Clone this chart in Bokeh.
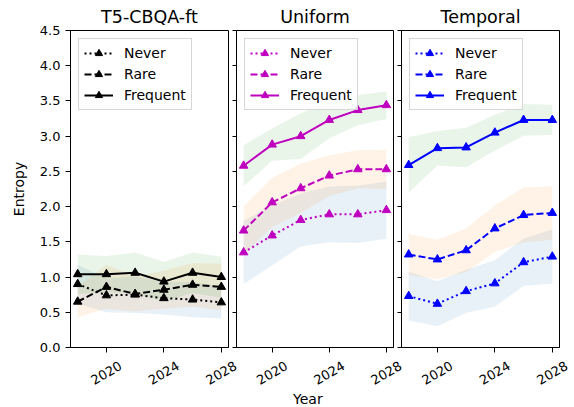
import math
from bokeh.plotting import figure
from bokeh.layouts import row, column
from bokeh.models import Range1d, FixedTicker, Legend, LegendItem, NumeralTickFormatter
from bokeh.core.properties import value
from bokeh.embed import file_html
from bokeh.resources import INLINE

years = [2018, 2020, 2022, 2024, 2026, 2028]
panel_titles = ["T5-CBQA-ft", "Uniform", "Temporal"]
series_names = ["Never", "Rare", "Frequent"]
line_colors = ["black", "#bf00bf", "#0000ff"]

# T5-CBQA-ft
t5_never = [0.90, 0.74, 0.75, 0.70, 0.68, 0.64]
t5_never_std = [0.28, 0.24, 0.26, 0.23, 0.25, 0.23]
t5_rare = [0.65, 0.86, 0.76, 0.82, 0.89, 0.86]
t5_rare_std = [0.22, 0.31, 0.25, 0.27, 0.31, 0.33]
t5_freq = [1.04, 1.04, 1.06, 0.935, 1.06, 1.00]
t5_freq_std = [0.28, 0.26, 0.29, 0.28, 0.29, 0.29]

# Uniform
uni_never = [1.35, 1.59, 1.81, 1.89, 1.89, 1.95]
uni_never_std = [0.45, 0.425, 0.375, 0.395, 0.405, 0.405]
uni_rare = [1.66, 2.06, 2.26, 2.44, 2.53, 2.53]
uni_rare_std = [0.34, 0.35, 0.35, 0.29, 0.27, 0.28]
uni_freq = [2.58, 2.88, 3.00, 3.23, 3.37, 3.44]
uni_freq_std = [0.29, 0.23, 0.325, 0.26, 0.215, 0.195]

# Temporal
tem_never = [0.73, 0.62, 0.80, 0.91, 1.21, 1.29]
tem_never_std = [0.345, 0.32, 0.305, 0.33, 0.335, 0.385]
tem_rare = [1.32, 1.25, 1.38, 1.69, 1.88, 1.91]
tem_rare_std = [0.29, 0.28, 0.31, 0.33, 0.39, 0.38]
tem_freq = [2.59, 2.83, 2.84, 3.05, 3.23, 3.23]
tem_freq_std = [0.395, 0.245, 0.28, 0.255, 0.225, 0.215]

panel_data = [
    [(t5_never, t5_never_std), (t5_rare, t5_rare_std), (t5_freq, t5_freq_std)],
    [(uni_never, uni_never_std), (uni_rare, uni_rare_std), (uni_freq, uni_freq_std)],
    [(tem_never, tem_never_std), (tem_rare, tem_rare_std), (tem_freq, tem_freq_std)],
]

band_colors = ["#1f77b4", "#ff7f0e", "#2ca02c"]
dashes = ["2 3", "7 3", "solid"]
y_ticks = [0.0, 0.5, 1.0, 1.5, 2.0, 2.5, 3.0, 3.5, 4.0, 4.5]
x_ticks = [2020, 2024, 2028]
x_tick_labels = [str(t) for t in x_ticks]
x_label = "Year"
y_label = "Entropy"

FONT = "DejaVu Sans"
X_START, X_END = 2017.5, 2028.5
FRAME_H = 317
FRAME_W = [158, 157, 158]
BORDER_L = [70, 4, 4]
BORDER_R = 4
TOP = 30
MAIN_BOTTOM = 8
STRIP_H = 52
STRIP_SPANS = [(0, 240), (240, 405), (405, 574)]

figs = []
frame_lefts = []
xpos = 0
for i, title in enumerate(panel_titles):
    first = i == 0
    frame_lefts.append(xpos + BORDER_L[i])
    xpos += BORDER_L[i] + FRAME_W[i] + BORDER_R
    p = figure(
        frame_width=FRAME_W[i],
        frame_height=FRAME_H,
        min_border_left=BORDER_L[i],
        min_border_right=BORDER_R,
        min_border_top=TOP,
        min_border_bottom=MAIN_BOTTOM,
        x_range=Range1d(X_START, X_END),
        y_range=Range1d(0, 4.5),
        output_backend="svg",
        toolbar_location=None,
        title=title,
    )
    p.title.align = "center"
    p.title.text_font = FONT
    p.title.text_font_size = "17.5px"
    p.title.text_font_style = "normal"
    p.title.text_color = "black"
    p.title.text_line_height = 1.0
    p.title.standoff = 8
    p.grid.visible = False
    p.outline_line_color = "black"
    p.outline_line_width = 1
    p.outline_line_alpha = 1

    for ax in (p.xaxis[0], p.yaxis[0]):
        ax.axis_line_color = "black"
        ax.major_tick_line_color = "black"
        ax.minor_tick_line_color = None
        ax.major_tick_in = 0
        ax.major_tick_out = 5
        ax.major_label_text_font = FONT
        ax.major_label_text_font_size = "13px"
        ax.major_label_text_color = "black"
        ax.axis_label_text_font = FONT
        ax.axis_label_text_font_size = "14px"
        ax.axis_label_text_font_style = "normal"
        ax.axis_label_text_color = "black"

    # x tick labels drawn in the strip below (centred, rotated)
    p.xaxis.ticker = FixedTicker(ticks=x_ticks)
    p.xaxis.major_label_text_font_size = "0px"
    p.xaxis.major_label_text_color = None
    p.xaxis.major_label_standoff = 0

    p.yaxis.ticker = FixedTicker(ticks=y_ticks)
    p.yaxis.formatter = NumeralTickFormatter(format="0.0")
    if first:
        p.yaxis.axis_label = y_label
        p.yaxis.major_label_standoff = 5
        p.yaxis.axis_label_standoff = 10
    else:
        p.yaxis.major_label_text_font_size = "0px"
        p.yaxis.major_label_text_color = None
        p.yaxis.major_label_standoff = 0
        p.yaxis.major_tick_out = 4

    # bands
    for k, (mean, std) in enumerate(panel_data[i]):
        lo = [m - s for m, s in zip(mean, std)]
        hi = [m + s for m, s in zip(mean, std)]
        p.varea(x=years, y1=lo, y2=hi, fill_color=band_colors[k], fill_alpha=0.1)

    items = []
    for k, (mean, std) in enumerate(panel_data[i]):
        ln = p.line(years, mean, line_color=line_colors[i], line_width=2, line_dash=dashes[k])
        sc = p.scatter(years, mean, marker="triangle", size=8.5,
                       fill_color=line_colors[i], line_color=line_colors[i])
        items.append(LegendItem(label=series_names[k], renderers=[ln, sc]))

    legend = Legend(
        items=items,
        location="top_left",
        margin=8,
        padding=5,
        spacing=3,
        glyph_width=29,
        glyph_height=18,
        label_standoff=11,
        label_text_font=FONT,
        label_text_font_size="14px",
        label_text_color="black",
        border_line_color="#cccccc",
        border_line_alpha=0.8,
        background_fill_alpha=0.8,
    )
    p.add_layout(legend)
    figs.append(p)

# strip figures beneath each panel carrying the rotated, centred tick labels
strips = []
for i, (a, b) in enumerate(STRIP_SPANS):
    scale = FRAME_W[i] / (X_END - X_START)
    s_start = X_START - (frame_lefts[i] - a) / scale
    s_end = s_start + (b - a) / scale
    s = figure(
        frame_width=b - a,
        frame_height=STRIP_H,
        min_border_left=0, min_border_right=0, min_border_top=0, min_border_bottom=0,
        x_range=Range1d(s_start, s_end),
        y_range=Range1d(-STRIP_H, 0),
        x_axis_location=None, y_axis_location=None,
        output_backend="svg",
        toolbar_location=None,
    )
    s.grid.visible = False
    s.outline_line_color = None
    s.text(x=x_ticks, y=[-17.5] * len(x_ticks), text=x_tick_labels,
           angle=math.pi / 6, text_align="center", text_baseline="middle",
           text_font=value(FONT), text_font_size=value("13px"), text_color="black")
    if i == 1:
        s.text(x=[2022.5], y=[-43], text=[x_label],
               text_align="center", text_baseline="middle",
               text_font=value(FONT), text_font_size=value("14px"), text_color="black")
    strips.append(s)

layout = column(row(*figs), row(*strips))
open("out.html", "w").write(file_html(layout, INLINE))
